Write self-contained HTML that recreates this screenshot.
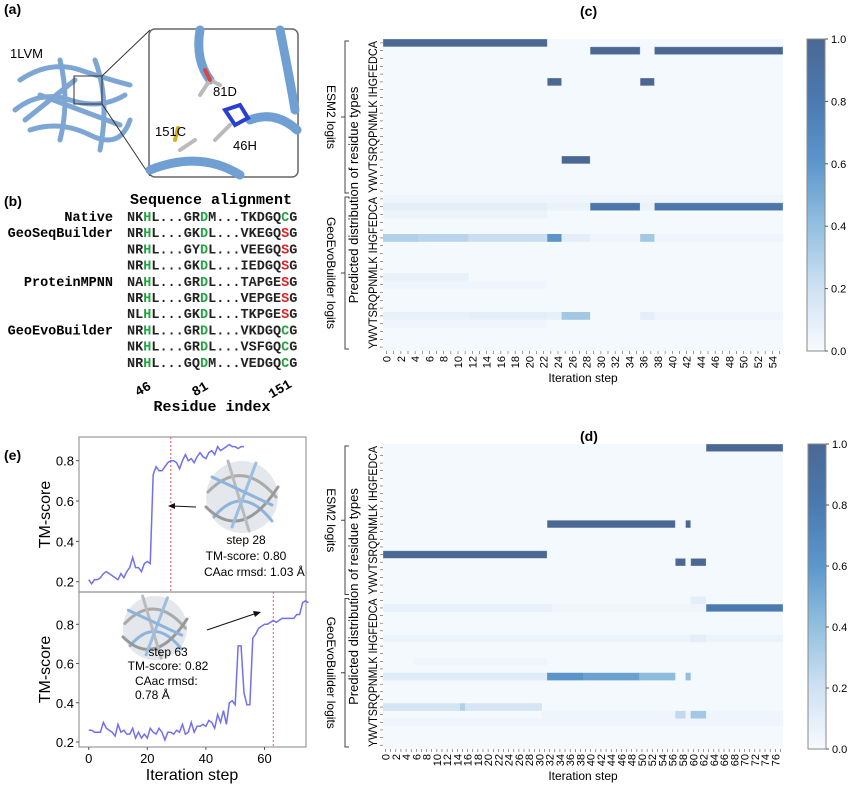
<!DOCTYPE html>
<html><head><meta charset="utf-8"><style>
body{margin:0;background:#fff;}
svg{display:block;font-family:"Liberation Sans",Arial,sans-serif;}
.mono{font-family:"Liberation Mono",monospace;font-weight:bold;}
</style></head><body>
<svg id="fig" width="850" height="788" viewBox="0 0 850 788" xmlns="http://www.w3.org/2000/svg">
<text x="4" y="14" font-size="14" font-weight="bold">(a)</text>
<text x="4" y="206" font-size="14" font-weight="bold">(b)</text>
<text x="580" y="16" font-size="14" font-weight="bold">(c)</text>
<text x="580" y="441" font-size="14" font-weight="bold">(d)</text>
<text x="4" y="460" font-size="14" font-weight="bold">(e)</text>

<g>
<text x="10" y="58" font-size="13">1LVM</text>
<g fill="none" stroke="#7ea6d4" stroke-width="5" stroke-linecap="round">
<path d="M20 80 Q50 60 80 70 T130 85"/><path d="M15 110 Q40 90 70 100 T125 95"/>
<path d="M30 130 Q60 120 90 135 T130 120"/><path d="M60 60 Q70 100 60 140"/>
<path d="M95 60 Q110 100 100 150"/><path d="M40 95 L120 125"/><path d="M25 120 L75 80"/>
</g>
<rect x="74" y="76" width="28" height="28" fill="none" stroke="#333" stroke-width="1"/>
<line x1="102" y1="76" x2="150" y2="30" stroke="#333"/><line x1="102" y1="104" x2="150" y2="176" stroke="#333"/>
<rect x="149" y="29" width="149" height="148" rx="6" fill="#fff" stroke="#666" stroke-width="1.5"/>
<g fill="none" stroke="#6f9fd3" stroke-width="9" stroke-linecap="round">
<path d="M280 30 Q290 80 295 110"/><path d="M150 170 Q200 150 240 175"/><path d="M250 120 Q275 110 297 130"/><path d="M200 30 Q195 60 210 80"/>
</g>
<g stroke-width="4" stroke-linecap="round" fill="none">
<path d="M200 95 L210 80 L220 85" stroke="#bbb"/><path d="M210 80 L205 70" stroke="#d44"/>
<path d="M225 110 L240 105 L248 118 L235 125 Z" stroke="#2a3fd0"/><path d="M215 140 L230 125" stroke="#bbb"/>
<path d="M180 150 L195 140" stroke="#bbb"/><path d="M175 140 L178 128" stroke="#d4b020"/>
</g>
<text x="213" y="96" font-size="13">81D</text>
<text x="233" y="150" font-size="13">46H</text>
<text x="155" y="136" font-size="13">151C</text>
</g>

<g id="align" font-size="13.5" class="mono"></g>
<g id="heatC"></g>
<g id="heatD"></g>
<g id="lines"></g>
</svg>
<script>
const NS="http://www.w3.org/2000/svg";
function mk(tag,attrs,parent,text){const e=document.createElementNS(NS,tag);for(const k in attrs)e.setAttribute(k,attrs[k]);if(text!==undefined)e.textContent=text;parent.appendChild(e);return e;}

const alignNames=["Native","GeoSeqBuilder","","","ProteinMPNN","","","GeoEvoBuilder","",""];
const alignSeqs=["NKHL...GRDM...TKDGQCG","NRHL...GKDL...VKEGQSG","NRHL...GYDL...VEEGQSG","NRHL...GKDL...IEDGQSG","NAHL...GRDL...TAPGESG","NRHL...GRDL...VEPGESG","NLHL...GKDL...TKPGESG","NRHL...GRDL...VKDGQCG","NKHL...GRDL...VSFGQCG","NRHL...GQDM...VEDGQCG"];
(function(){
 const g=document.getElementById('align');
 const t=mk('text',{x:211,y:204,'text-anchor':'middle','font-size':15},g,"Sequence alignment");
 
 
 alignSeqs.forEach((s,i)=>{
  const y=221+i*16.2;
  if(alignNames[i]){const n=mk('text',{x:113,y:y,'text-anchor':'end'},g,alignNames[i]);
   
   }
  const tx=mk('text',{x:127,y:y},g);
  
  
  [...s].forEach((c,j)=>{let col="#222";if(j===2||j===9)col="#22a540";if(j===19)col=(c==='S')?"#e02020":"#22a540";
   mk('tspan',{fill:col},tx,c);});
 });
 [["46",143],["81",200],["151",280]].forEach(([l,x])=>{const e=mk('text',{x:x,y:393,'text-anchor':'middle',transform:`rotate(-30 ${x} 389)`},g,l);
  
  });
 const r=mk('text',{x:212,y:411,'text-anchor':'middle','font-size':15},g,"Residue index");
 
 
})();

const residueLetters=["A","C","D","E","F","G","H","I","K","L","M","N","P","Q","R","S","T","V","W","Y"];
const bgValue=0.01;
const segmentsC=[[0,0,22,1],[1,29,35,1],[1,38,55,1],[5,23,24,1],[5,36,37,1],[15,25,28,1],
 [20,0,55,0.04],[21,0,22,0.1],[21,23,28,0.06],[21,29,35,0.85],[21,36,37,0.06],[21,38,55,0.85],[22,0,22,0.05],
 [25,0,4,0.3],[25,5,11,0.27],[25,12,22,0.22],[25,23,24,0.62],[25,25,28,0.1],[25,29,35,0.04],[25,36,37,0.35],[25,38,55,0.04],
 [30,0,11,0.07],[31,0,22,0.04],[35,0,11,0.07],[35,12,22,0.1],[35,23,24,0.08],[35,25,28,0.35],[35,36,37,0.1],[35,38,55,0.04],[36,0,22,0.04]];
const segmentsD=[[14,0,31,1],[10,32,56,1],[10,59,59,1],[15,57,58,1],[15,60,62,1],[0,63,77,1],
 [20,60,62,0.1],[21,0,32,0.07],[21,33,62,0.04],[21,63,77,0.8],[25,0,77,0.05],[25,60,62,0.1],
 [30,0,31,0.12],[30,32,38,0.62],[30,39,49,0.55],[30,50,56,0.42],[30,59,59,0.4],
 [34,0,14,0.18],[34,15,15,0.3],[34,16,30,0.17],[35,31,77,0.04],[35,57,58,0.25],[35,60,62,0.35],[36,0,77,0.04],[28,6,31,0.04]];
const colorStops=[[0,[246,250,254]],[0.2,[207,225,242]],[0.4,[147,192,223]],[0.6,[92,151,203]],[0.8,[74,122,176]],[1,[75,104,148]]];
function cmap(v){for(let i=1;i<colorStops.length;i++){if(v<=colorStops[i][0]){const [a,ca]=colorStops[i-1],[b,cb]=colorStops[i];const t=(v-a)/(b-a);return `rgb(${ca.map((c,k)=>Math.round(c+(cb[k]-c)*t)).join(',')})`;}}return 'rgb(75,104,148)';}

function heatmap(gid,nSteps,segs,x0,x1,y0,y1,cbx){
 const g=document.getElementById(gid);
 const nRows=40,cw=(x1-x0)/nSteps,rh=(y1-y0)/nRows;
 const xs=s=>x0+s*cw, ys=r=>y0+r*rh;
 const bg=mk('rect',{x:x0,y:y0,width:x1-x0,height:y1-y0,fill:cmap(bgValue)},g);
 
 
 segs.forEach(([r,a,b,v])=>{const c=mk('rect',{x:xs(a),y:ys(r),width:(b-a+1)*cw,height:rh,fill:cmap(v),stroke:v>0.7?'rgba(255,255,255,0.35)':'none','stroke-width':0.8},g);
  
  });
 for(let r=0;r<nRows;r++){mk('line',{x1:x0-3,x2:x0,y1:ys(r+0.5),y2:ys(r+0.5),stroke:'#555','stroke-width':0.6},g);}
 [0,20].forEach((off,gi)=>{
  const letters=residueLetters.slice().reverse().join('').replace('KI','K I');
  const cy=ys(off+10);
  const t=mk('text',{x:x0-6,y:cy,'text-anchor':'middle','font-size':12,transform:`rotate(-90 ${x0-6} ${cy})`,'textLength':rh*20-4,'lengthAdjust':'spacingAndGlyphs'},g,letters);
  
  
  const bx=345,by0=ys(off)+2,by1=ys(off+20)-2;
  const br=mk('path',{d:`M${bx+4} ${by0} L${bx} ${by0} L${bx} ${by1} L${bx+4} ${by1} M${bx} ${(by0+by1)/2} L${bx-4} ${(by0+by1)/2}`,fill:'none',stroke:'#444','stroke-width':1},g);
  
  
  const lbl=gi===0?"ESM2 logits":"GeoEvoBuilder logits";const lx=327,ly=(by0+by1)/2;
  const l=mk('text',{x:lx,y:ly,'text-anchor':'middle','font-size':12,transform:`rotate(90 ${lx} ${ly})`},g,lbl);
  
  
 });
 const ylab=mk('text',{x:358,y:(y0+y1)/2,'text-anchor':'middle','font-size':13,transform:`rotate(-90 358 ${(y0+y1)/2})`},g,"Predicted distribution of residue types");
 
 
 for(let s=0;s<nSteps;s++){mk('line',{x1:xs(s+0.5),x2:xs(s+0.5),y1:y1,y2:y1+3,stroke:'#555','stroke-width':0.6},g);
  if(s%2===0){const tx=xs(s+0.5)+4,ty=y1+5;const t=mk('text',{x:tx,y:ty,'text-anchor':'end','font-size':11,transform:`rotate(-90 ${tx} ${ty})`},g,String(s));
   
   }}
 const xl=mk('text',{x:(x0+x1)/2,y:y1+31,'text-anchor':'middle','font-size':12},g,"Iteration step");
 
 
 const defs=mk('defs',{},g);const lg=mk('linearGradient',{id:gid+'grad',x1:0,y1:1,x2:0,y2:0},defs);
 for(let i=0;i<=10;i++)mk('stop',{offset:i/10,'stop-color':cmap(i/10)},lg);
 const cb=mk('rect',{x:cbx,y:y0,width:18,height:y1-y0,fill:`url(#${gid}grad)`,stroke:'#888','stroke-width':1},g);
 
 
 [0,0.2,0.4,0.6,0.8,1.0].forEach(v=>{const y=y1-v*(y1-y0);mk('line',{x1:cbx+18,x2:cbx+21,y1:y,y2:y,stroke:'#555'},g);
  const t=mk('text',{x:cbx+24,y:y+4,'font-size':11},g,v.toFixed(1));
  
  });
}
heatmap('heatC',56,segmentsC,383,783,39,351,807);
heatmap('heatD',78,segmentsD,383,783,444,749,808);

const tmESM=[0.21,0.19,0.21,0.21,0.22,0.24,0.25,0.24,0.23,0.22,0.21,0.24,0.22,0.25,0.27,0.32,0.27,0.27,0.25,0.29,0.30,0.29,0.73,0.77,0.75,0.75,0.77,0.79,0.80,0.80,0.79,0.76,0.80,0.83,0.80,0.81,0.79,0.82,0.84,0.82,0.81,0.84,0.85,0.83,0.87,0.85,0.86,0.87,0.88,0.87,0.87,0.86,0.87,0.87];
const tmGeo=[0.26,0.26,0.25,0.25,0.25,0.30,0.27,0.26,0.25,0.23,0.29,0.25,0.26,0.24,0.24,0.27,0.22,0.25,0.22,0.24,0.22,0.27,0.25,0.24,0.27,0.25,0.21,0.25,0.25,0.24,0.26,0.25,0.29,0.24,0.25,0.30,0.25,0.28,0.28,0.29,0.28,0.31,0.30,0.27,0.34,0.30,0.36,0.29,0.40,0.41,0.39,0.69,0.69,0.45,0.39,0.39,0.73,0.75,0.78,0.79,0.80,0.80,0.81,0.82,0.81,0.82,0.83,0.83,0.83,0.83,0.83,0.85,0.85,0.91,0.92,0.91];
const yTicksE=[0.2,0.4,0.6,0.8];
const xTicksE=[0,20,40,60];
const markSteps=[28,63];
(function(){
 const g=document.getElementById('lines');
 const xs=s=>88.7+s*2.93;
 const panels=[{data:tmESM,top:437,bot:592,y08:460.7,y02:581.7,mark:markSteps[0]},{data:tmGeo,top:592,bot:747,y08:624.3,y02:742,mark:markSteps[1]}];
 panels.forEach((p)=>{
  const ys=v=>p.y02+(v-0.2)*(p.y08-p.y02)/0.6;
  const fr=mk('rect',{x:79,y:p.top,width:227,height:p.bot-p.top,fill:'none',stroke:'#999','stroke-width':1.2},g);
  
  
  yTicksE.forEach(v=>{mk('line',{x1:76,x2:79,y1:ys(v),y2:ys(v),stroke:'#555'},g);
   const t=mk('text',{x:74,y:ys(v)+5,'text-anchor':'end','font-size':13},g,v.toFixed(1));
   
   });
  const yl=mk('text',{x:50,y:(p.top+p.bot)/2,'text-anchor':'middle','font-size':16,transform:`rotate(-90 50 ${(p.top+p.bot)/2})`},g,"TM-score");
  
  
  const vl=mk('line',{x1:xs(p.mark),x2:xs(p.mark),y1:p.top,y2:p.bot,stroke:'#e06060','stroke-dasharray':'2,2','stroke-width':1},g);
  
  
  const ln=mk('polyline',{points:p.data.map((v,i)=>xs(i)+','+ys(v)).join(' '),fill:'none',stroke:'#7070f0','stroke-width':1.5},g);
  
  
 });
 [[242,497,36],[155,628,32]].forEach(([cx,cy,r])=>{
  const k=r/36;
  const sg=mk('g',{fill:'none','stroke-width':3,'stroke-linecap':'round'},g);
  
  
  mk('circle',{cx:cx,cy:cy,r:r,fill:'#e4e7eb',stroke:'none'},sg);
  [['#aaa',[-34,-5,0,-40,34,0]],['#8fb4dc',[-28,20,0,-14,30,24]],['#999',[-36,10,0,46,36,-10]]].forEach(([c,a])=>mk('path',{d:`M${cx+a[0]*k} ${cy+a[1]*k} Q${cx+a[2]*k} ${cy+a[3]*k} ${cx+a[4]*k} ${cy+a[5]*k}`,stroke:c},sg));
  [['#bbb',[-14,-36,7,34]],['#9bbde0',[14,-34,-10,30]],['#8fb4dc',[-30,-20,30,8]]].forEach(([c,a])=>mk('path',{d:`M${cx+a[0]*k} ${cy+a[1]*k} L${cx+a[2]*k} ${cy+a[3]*k}`,stroke:c},sg));
 });
 mk('line',{x1:196,y1:507,x2:172,y2:506,stroke:'#111','stroke-width':1},g);
 mk('path',{d:'M168 506 L175 503 L175 509 Z',fill:'#111'},g);
 mk('line',{x1:207,y1:630,x2:257,y2:613,stroke:'#111','stroke-width':1},g);
 mk('path',{d:'M261 612 L253 611 L255 617 Z',fill:'#111'},g);
 const ann=[[246,544,"step 28","middle"],[246,560,"TM-score: 0.80","middle"],[204,576,"CAac rmsd: 1.03 Å","start"],[168,656,"step 63","middle"],[168,670,"TM-score: 0.82","middle"],[135,685,"CAac rmsd:","start"],[135,699,"0.78 Å","start"]];
 ann.forEach(([x,y,s,a])=>{const t=mk('text',{x:x,y:y,'text-anchor':a,'font-size':12},g,s);
  
  });
 xTicksE.forEach(v=>{mk('line',{x1:xs(v),x2:xs(v),y1:747,y2:750,stroke:'#555'},g);
  const t=mk('text',{x:xs(v),y:763,'text-anchor':'middle','font-size':13},g,String(v));
  
  });
 const xl=mk('text',{x:192,y:780,'text-anchor':'middle','font-size':16},g,"Iteration step");
 
 
})();
</script>
</body></html>
